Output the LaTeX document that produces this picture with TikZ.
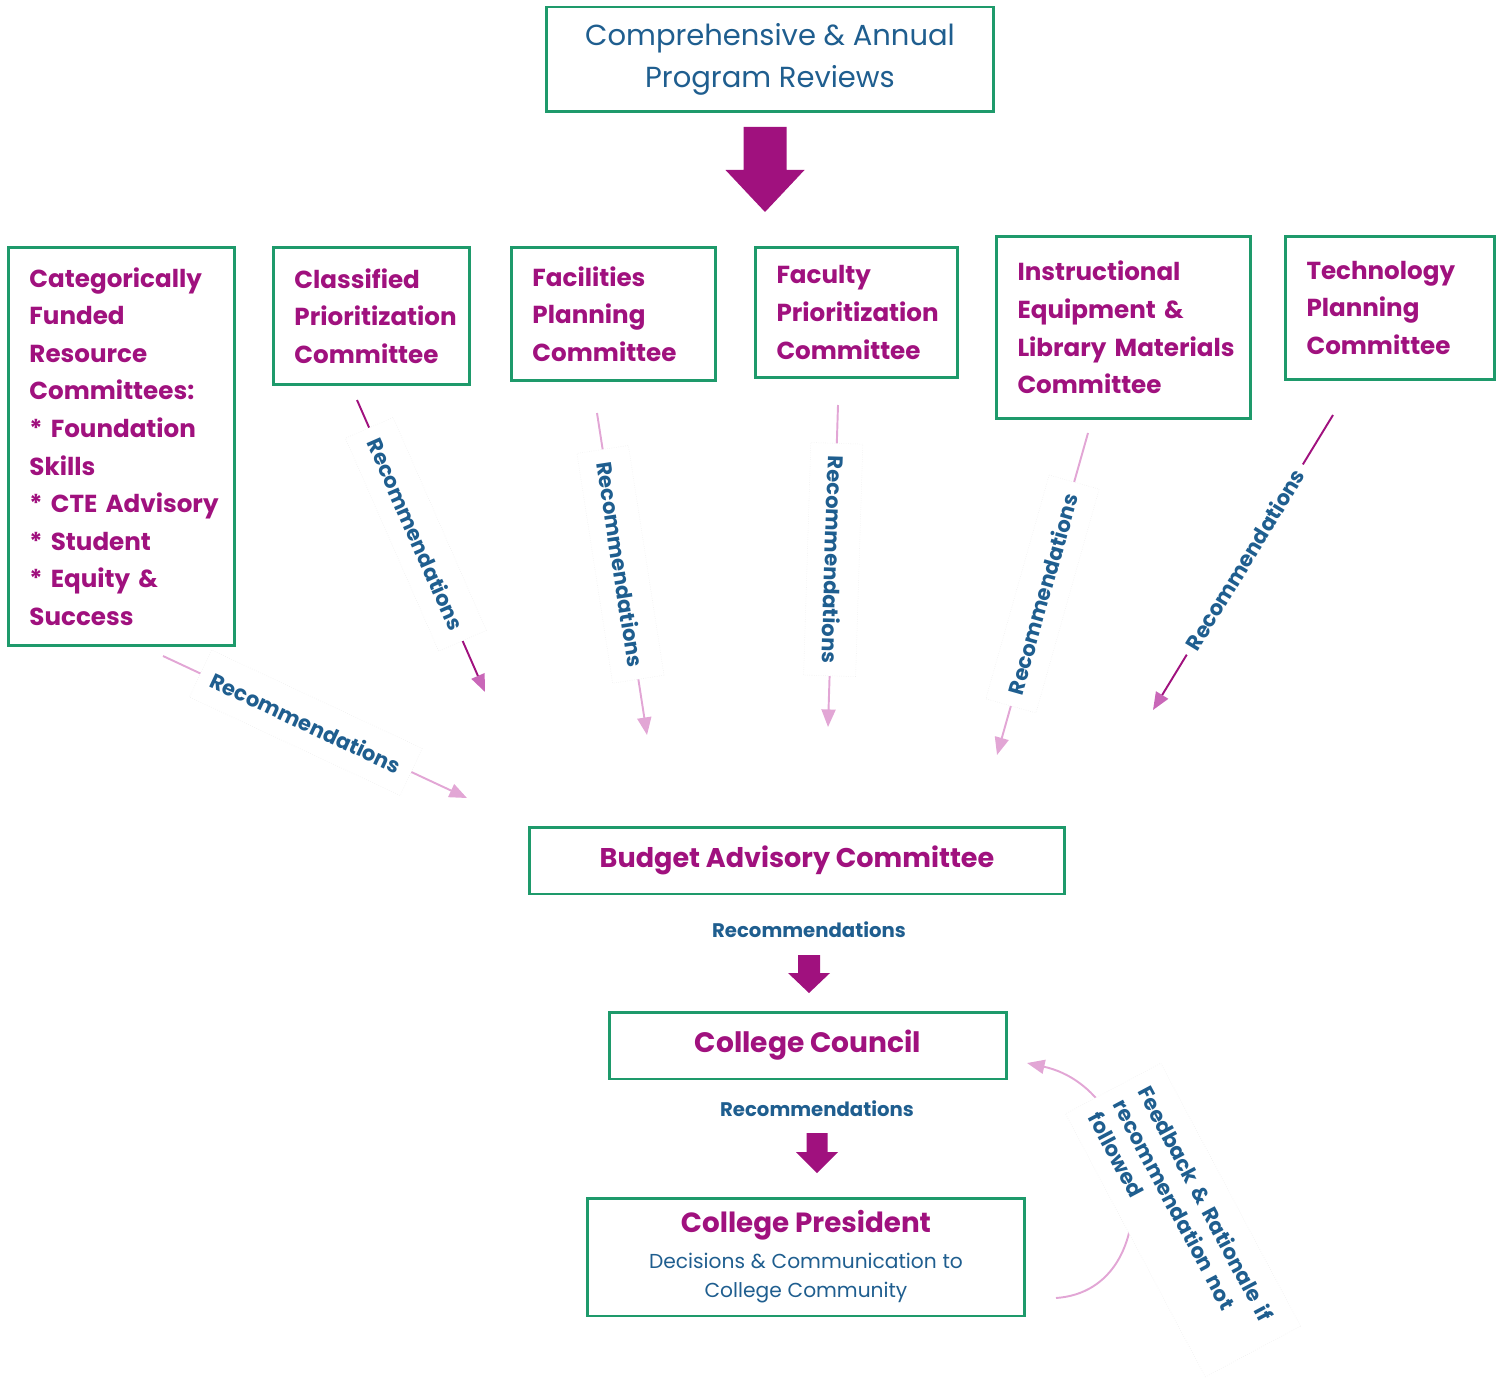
\documentclass[tikz,border=0pt]{standalone}
\usepackage{fontspec}
\setmainfont{Poppins}
\usetikzlibrary{arrows.meta, positioning, calc}

\definecolor{plum}{HTML}{A0117E}
\definecolor{navy}{HTML}{1F5E8F}
\definecolor{leaf}{HTML}{1E9A6B}
\definecolor{rose}{HTML}{E2A6D5}
\definecolor{orchid}{HTML}{C967B8}

\begin{document}
\begin{tikzpicture}[
    x=0.02cm, y=-0.02cm,
    box/.style={rectangle, draw=leaf, line width=1.7pt, fill=white, inner xsep=0.42cm, inner ysep=0pt},
    cmte/.style={box, anchor=north west, align=left, text=plum, font=\fontsize{14}{21.4}\selectfont\bfseries},
    body/.style={box, align=center},
    recline/.style={draw=rose, line width=1.1pt, -{Triangle[length=10pt,width=8pt]}},
    recdark/.style={draw=plum, line width=1.1pt, -{Triangle[length=10pt,width=8pt,color=orchid]}},
    reclabel/.style={sloped, fill=white, text=navy, font=\fontsize{12}{14}\selectfont\bfseries, draw=gray!15, densely dotted, line width=0.3pt, inner xsep=0.25cm, inner ysep=0.35cm},
    recnote/.style={text=navy, font=\fontsize{11.2}{14}\selectfont\bfseries},
    fbnote/.style={fill=white, text=navy, font=\fontsize{12}{16}\selectfont\bfseries, draw=gray!15, densely dotted, line width=0.3pt, align=left, text width=5.4cm, inner xsep=0.28cm, minimum height=2.16cm},
    pics/blockdown/.style n args={4}{code={
        \fill[plum] (-#1,0) -- (#1,0) -- (#1,#3) -- (#2,#3) -- (0,#4) -- (-#2,#3) -- (-#1,#3) -- cycle;
    }}
]
    \useasboundingbox (0,0) rectangle (1503,1378);

    % program reviews
    \node[body, minimum width=8.96cm, minimum height=2.10cm, text=navy, font=\fontsize{16.5}{23.9}\selectfont] (review) at (770,59.5) {Comprehensive \& Annual\\Program Reviews};
    \pic at (765,127) {blockdown={21.5}{39.5}{43}{85}};

    % committees
    \node[cmte, text width=3.68cm, minimum height=7.96cm] (categorical) at (7,246) {Categorically\\Funded\\Resource\\Committees:\\{}* Foundation\\Skills\\\mbox{* CTE Advisory}\\{}* Student\\{}* Equity \&\\Success};
    \node[cmte, text width=3.08cm, minimum height=2.74cm] (classified) at (272,246) {Classified\\Prioritization\\Committee};
    \node[cmte, text width=3.24cm, minimum height=2.66cm] (facilities) at (510,246) {Facilities\\Planning\\Committee};
    \node[cmte, text width=3.20cm, minimum height=2.60cm] (faculty) at (754,246) {Faculty\\Prioritization\\Committee};
    \node[cmte, text width=4.24cm, minimum height=3.64cm] (equipment) at (995,235) {Instructional\\Equipment \&\\\mbox{Library Materials}\\Committee};
    \node[cmte, text width=3.34cm, minimum height=2.86cm] (technology) at (1284,235) {Technology\\Planning\\Committee};

    % budget, council, president
    \node[body, minimum width=10.72cm, minimum height=1.34cm, text=plum, font=\fontsize{15.4}{20}\selectfont\bfseries] (budget) at (797,860.5) {Budget Advisory Committee};
    \node[recnote] (rec-budget) at (809,930) {Recommendations};
    \pic at (809,955) {blockdown={11}{21}{18}{38}};
    \node[body, minimum width=7.96cm, minimum height=1.34cm, text=plum, font=\fontsize{16}{20}\selectfont\bfseries] (council) at (808,1045.5) {College Council};
    \node[recnote] (rec-council) at (817,1109) {Recommendations};
    \pic at (817,1133) {blockdown={10.5}{21}{19}{40}};
    \node[body, minimum width=8.76cm, minimum height=2.36cm, text width=7.9cm] (president) at (806,1257) {{\color{plum}\fontsize{15.8}{20}\selectfont\bfseries College President\par}\vspace{3pt}{\color{navy}\fontsize{11.5}{17}\selectfont Decisions \& Communication to\\College Community\par}};

    % recommendation arrows
    \coordinate (cat-out) at (163,656);
    \coordinate (cat-in) at (467,798);
    \coordinate (cla-out) at (357,400);
    \coordinate (cla-in) at (485,692);
    \coordinate (fac-out) at (597,413);
    \coordinate (fac-in) at (647,735);
    \coordinate (fpc-out) at (838,405);
    \coordinate (fpc-in) at (828,727);
    \coordinate (equ-out) at (1088,433);
    \coordinate (equ-in) at (997,755);
    \coordinate (tec-out) at (1333,415);
    \coordinate (tec-in) at (1153,710);

    \draw[recline] (cat-out) -- node[reclabel, pos=0.47] {Recommendations} (cat-in);
    \draw[recdark] (cla-out) -- node[reclabel, pos=0.46] {Recommendations} (cla-in);
    \draw[recline] (fac-out) -- node[reclabel, pos=0.47] {Recommendations} (fac-in);
    \draw[recline] (fpc-out) -- node[reclabel, pos=0.48, allow upside down] {Recommendations} (fpc-in);
    \draw[recline] (equ-out) -- node[reclabel, pos=0.5] {Recommendations} (equ-in);
    \draw[recdark] (tec-out) -- node[reclabel, pos=0.49, draw=none, inner xsep=0.15cm] {Recommendations} (tec-in);

    % feedback loop
    \coordinate (fb-out) at (1056,1298);
    \coordinate (fb-in) at (1027,1063);
    \draw[recline] (fb-out) .. controls (1170,1290) and (1150,1090) .. (fb-in);
    \node[fbnote, rotate=-62] (feedback) at (1183,1220) {Feedback \& Rationale if\\recommendation not\\followed};
\end{tikzpicture}
\end{document}
